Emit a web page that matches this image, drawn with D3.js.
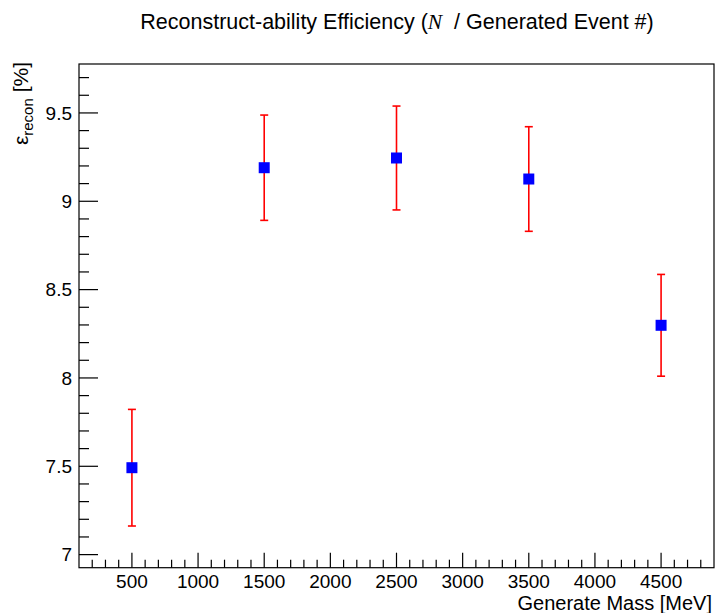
<!DOCTYPE html>
<html><head><meta charset="utf-8">
<script src="https://cdn.jsdelivr.net/npm/d3@7"></script>
<style>body{margin:0;background:#fff}svg{display:block}text{font-family:"Liberation Sans",Arial,Helvetica,sans-serif}</style>
</head><body><svg id="c" width="715" height="613"></svg>
<script>
const masses = [500, 1500, 2500, 3500, 4500];
const effValues = [7.492, 9.190, 9.245, 9.126, 8.298];
const effErrors = [0.330, 0.298, 0.294, 0.296, 0.288];
const xTickLabels = [500, 1000, 1500, 2000, 2500, 3000, 3500, 4000, 4500];
const yTickLabels = [7, 7.5, 8, 8.5, 9, 9.5];

const svg = d3.select("#c");
const L = 79, R = 714, T = 64, B = 567.7;
const x = d3.scaleLinear().domain([100, 4900]).range([L, R]);
const y = d3.scaleLinear().domain([6.926, 9.777]).range([B, T]);

// frame
svg.append("rect").attr("x", L).attr("y", T).attr("width", R - L).attr("height", B - T)
  .attr("fill", "none").attr("stroke", "#000").attr("stroke-width", 1.2);

// x axis ticks
const xMinor = d3.range(200, 4900, 100);
svg.append("g").selectAll("line").data(xMinor).join("line")
  .attr("x1", d => x(d)).attr("x2", d => x(d))
  .attr("y1", B).attr("y2", d => B - (d % 500 === 0 ? 15 : 8))
  .attr("stroke", "#000").attr("stroke-width", 1.2);
svg.append("g").selectAll("text").data(xTickLabels).join("text")
  .attr("x", d => x(d)).attr("y", 588).attr("text-anchor", "middle")
  .attr("font-size", 19).text(d => d);

// y axis ticks
const yMinor = d3.range(70, 98, 1).map(d => d / 10);
svg.append("g").selectAll("line").data(yMinor).join("line")
  .attr("x1", L).attr("x2", d => L + (Math.round(d * 10) % 5 === 0 ? 19 : 10))
  .attr("y1", d => y(d)).attr("y2", d => y(d))
  .attr("stroke", "#000").attr("stroke-width", 1.2);
svg.append("g").selectAll("text").data(yTickLabels).join("text")
  .attr("x", 72).attr("y", d => y(d)).attr("dy", "0.35em").attr("text-anchor", "end")
  .attr("font-size", 19).text(d => d);

// error bars
const g = svg.append("g");
masses.forEach((m, i) => {
  const cx = x(m), v = effValues[i], e = effErrors[i];
  g.append("line").attr("x1", cx).attr("x2", cx).attr("y1", y(v + e)).attr("y2", y(v - e))
    .attr("stroke", "#ff0000").attr("stroke-width", 1.6);
  [v + e, v - e].forEach(w => g.append("line").attr("x1", cx - 4).attr("x2", cx + 4)
    .attr("y1", y(w)).attr("y2", y(w)).attr("stroke", "#ff0000").attr("stroke-width", 1.6));
});
g.selectAll("rect").data(masses).join("rect")
  .attr("x", d => x(d) - 5.5).attr("y", (d, i) => y(effValues[i]) - 5.5)
  .attr("width", 11).attr("height", 11).attr("fill", "#0000ff");

// title
const t = svg.append("text").attr("x", 397).attr("y", 29).attr("text-anchor", "middle").attr("font-size", 21.5);
t.append("tspan").text("Reconstruct-ability Efficiency (");
t.append("tspan").attr("font-family", "'Liberation Serif',serif").attr("font-style", "italic").text("N");
t.append("tspan").text("\u00a0 / Generated Event #)");

// x label
svg.append("text").attr("x", 712).attr("y", 610).attr("text-anchor", "end").attr("font-size", 20)
  .text("Generate Mass [MeV]");

// y label
const yl = svg.append("text").attr("transform", "translate(28,62) rotate(-90)").attr("text-anchor", "end").attr("font-size", 21);
yl.append("tspan").text("ε");
yl.append("tspan").attr("font-size", 15).attr("dy", 5).text("recon");
yl.append("tspan").attr("dy", -5).text(" [%]");
</script></body></html>
